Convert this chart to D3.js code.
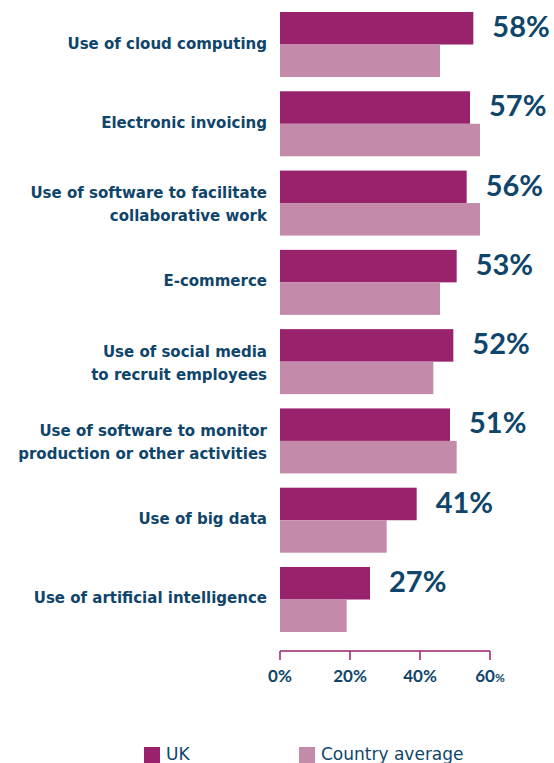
<!DOCTYPE html>
<html>
<head>
<meta charset="utf-8">
<script src="https://cdn.jsdelivr.net/npm/d3@7"></script>
<style>
  body { margin: 0; background: #fff; }
  text { font-family: "Lato", "DejaVu Sans", sans-serif; }
</style>
</head>
<body>
<div class="canvas"></div>
<script>
// data
const categories = [
    ["Use of cloud computing"],
    ["Electronic invoicing"],
    ["Use of software to facilitate", "collaborative work"],
    ["E-commerce"],
    ["Use of social media", "to recruit employees"],
    ["Use of software to monitor", "production or other activities"],
    ["Use of big data"],
    ["Use of artificial intelligence"]
];
const ukValues = [58, 57, 56, 53, 52, 51, 41, 27];
const avgValues = [48, 60, 60, 48, 46, 53, 32, 20];
const tickValues = [0, 20, 40, 60];
const seriesNames = ["UK", "Country average"];

const colors = { uk: "#98226c", avg: "#c38aaa", text: "#0f456a" };

var svg = d3.select(".canvas").append("svg").attr("width", 554).attr("height", 763);

const x = d3.scaleLinear().domain([0, 60]).range([280, 480]);
// axis ticks in the source sit slightly wider than the bars
const xAxis = d3.scaleLinear().domain([0, 60]).range([280, 490]);

const y = d3.scaleBand()
    .domain(d3.range(categories.length))
    .range([12, 632])
    .paddingInner(0.18)
    .paddingOuter(0);

const bh = y.bandwidth() / 2;

const groups = svg.selectAll("g.cat")
    .data(categories)
    .enter().append("g")
    .attr("class", "cat");

// UK bars
groups.append("rect")
    .attr("x", x(0))
    .attr("y", (d, i) => y(i))
    .attr("width", (d, i) => x(ukValues[i]) - x(0))
    .attr("height", bh)
    .attr("fill", colors.uk);

// Country average bars
groups.append("rect")
    .attr("x", x(0))
    .attr("y", (d, i) => y(i) + bh)
    .attr("width", (d, i) => x(avgValues[i]) - x(0))
    .attr("height", bh)
    .attr("fill", colors.avg);

// value labels
groups.append("text")
    .attr("x", (d, i) => x(ukValues[i]) + 19)
    .attr("y", (d, i) => y(i) + 25)
    .attr("fill", colors.text)
    .attr("font-size", "29px")
    .attr("font-weight", "bold")
    .text((d, i) => ukValues[i] + "%");

// category labels
groups.each(function (d, i) {
    const c = y(i) + y.bandwidth() / 2;
    const t = d3.select(this).append("text")
        .attr("text-anchor", "end")
        .attr("fill", colors.text)
        .style("font-family", "'DejaVu Sans'")
        .attr("font-size", "15px")
        .attr("font-weight", "bold");
    if (d.length === 1) {
        t.append("tspan").attr("x", 267).attr("y", c + 4).text(d[0]);
    } else {
        t.append("tspan").attr("x", 267).attr("y", c - 5).text(d[0]);
        t.append("tspan").attr("x", 267).attr("y", c + 18).text(d[1]);
    }
});

// axis
const ax = svg.append("g");
ax.append("line")
    .attr("x1", xAxis(0)).attr("x2", xAxis(60))
    .attr("y1", 651).attr("y2", 651)
    .attr("stroke", colors.uk).attr("stroke-width", 1.5);
ax.selectAll("line.tick")
    .data(tickValues)
    .enter().append("line")
    .attr("class", "tick")
    .attr("x1", d => xAxis(d)).attr("x2", d => xAxis(d))
    .attr("y1", 651).attr("y2", 660)
    .attr("stroke", colors.uk).attr("stroke-width", 1.5);
const tl = ax.selectAll("text.tick")
    .data(tickValues)
    .enter().append("text")
    .attr("class", "tick")
    .attr("x", d => xAxis(d))
    .attr("y", 682)
    .attr("text-anchor", "middle")
    .attr("fill", colors.text)
    .attr("font-size", "17px")
    .attr("font-weight", "bold");
tl.append("tspan").text(d => d);
tl.append("tspan").attr("font-size", d => d === 60 ? "12px" : "17px").text("%");

// legend
const legend = svg.selectAll("g.legend")
    .data(seriesNames)
    .enter().append("g")
    .attr("class", "legend")
    .attr("transform", (d, i) => `translate(${i === 0 ? 144 : 299},747)`);
legend.append("rect")
    .attr("width", 16).attr("height", 16)
    .attr("fill", (d, i) => i === 0 ? colors.uk : colors.avg);
legend.append("text")
    .attr("x", 22).attr("y", 13)
    .attr("fill", colors.text)
    .style("font-family", "'DejaVu Sans'")
    .attr("font-size", "17px")
    .text(d => d);
</script>
</body>
</html>
